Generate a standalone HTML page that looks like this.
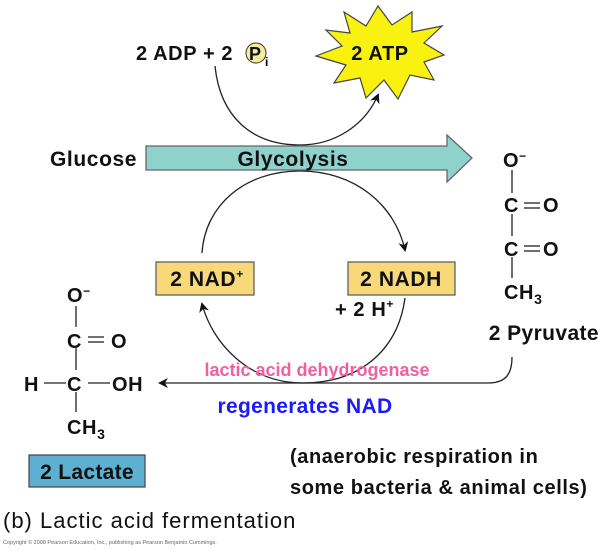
<!DOCTYPE html>
<html><head><meta charset="utf-8"><style>
html,body{margin:0;padding:0;background:#fff;}
svg{display:block;font-family:"Liberation Sans",Arial,sans-serif;}
.t{font-size:19px;font-weight:bold;fill:#111;letter-spacing:0.6px;}
</style></head><body>
<svg width="600" height="550" viewBox="0 0 600 550">
<defs>
<marker id="ah" markerWidth="10" markerHeight="10" refX="8" refY="5" orient="auto" markerUnits="userSpaceOnUse">
<path d="M0,0 L10,5 L0,10 L3,5 Z" fill="#111"/></marker>
</defs>
<g>
<text class="t" x="136" y="60" style="font-size:20px">2 ADP + 2</text>
<circle cx="256" cy="53" r="10" fill="#f6ec9a" stroke="#333" stroke-width="1"/>
<text class="t" x="249" y="60" style="font-size:18px">P</text>
<text x="265" y="66" style="font-size:12px;font-weight:bold">i</text>
</g>
<polygon fill="#f9f10f" stroke="#444" stroke-width="1.2"
points="378,6 392,25 412,12 412,32 442,26 424,43 444,55 424,62 434,80 410,75 398,99 384,80 366,98 360,78 334,83 346,65 316,56 342,46 326,30 350,33 344,12 366,26"/>
<text class="t" x="380" y="60" text-anchor="middle" style="font-size:20px">2 ATP</text>
<path d="M215,66 C220,115 250,145 300,145 C335,145 365,125 378,95" fill="none" stroke="#222" stroke-width="1.3" marker-end="url(#ah)"/>
<path d="M202,253 C205,205 245,171 300,171 C355,171 395,205 405,250" fill="none" stroke="#222" stroke-width="1.3" marker-end="url(#ah)"/>
<polygon points="146,146 447,146 447,135 472,158 447,182 447,170 146,170" fill="#8fd2cc" stroke="#666" stroke-width="1.3"/>
<text class="t" x="50" y="166" style="font-size:21px">Glucose</text>
<text class="t" x="293" y="166" text-anchor="middle" style="font-size:21px">Glycolysis</text>
<rect x="156" y="262" width="98" height="33" fill="#f8d97a" stroke="#555" stroke-width="1.2"/>
<text class="t" x="207" y="286" text-anchor="middle" style="font-size:21px">2 NAD<tspan dy="-8" style="font-size:12px">+</tspan></text>
<rect x="348" y="262" width="107" height="33" fill="#f8d97a" stroke="#555" stroke-width="1.2"/>
<text class="t" x="401" y="286" text-anchor="middle" style="font-size:21px">2 NADH</text>
<text class="t" x="335" y="316" style="font-size:20px">+ 2 H<tspan dy="-8" style="font-size:12px">+</tspan></text>
<path d="M405,298 C398,350 360,383 303,383 C250,383 213,345 202,304" fill="none" stroke="#222" stroke-width="1.3" marker-end="url(#ah)"/>
<g stroke="#222" stroke-width="1.3">
<line x1="512" y1="170" x2="512" y2="193"/><line x1="512" y1="214" x2="512" y2="236"/><line x1="512" y1="257" x2="512" y2="278"/>
<line x1="524" y1="203" x2="540" y2="203"/><line x1="524" y1="208" x2="540" y2="208"/>
<line x1="524" y1="246" x2="540" y2="246"/><line x1="524" y1="251" x2="540" y2="251"/>
</g>
<text class="t" x="503" y="167" style="font-size:20px">O<tspan dy="-7" style="font-size:12px">−</tspan></text>
<text class="t" x="504" y="212" style="font-size:20px">C</text><text class="t" x="543" y="212" style="font-size:20px">O</text>
<text class="t" x="504" y="256" style="font-size:20px">C</text><text class="t" x="543" y="256" style="font-size:20px">O</text>
<text class="t" x="504" y="299" style="font-size:20px">CH<tspan dy="5" style="font-size:14px">3</tspan></text>
<text class="t" x="599" y="340" text-anchor="end" style="font-size:21px;letter-spacing:0.4px">2 Pyruvate</text>
<path d="M512,357 C512,375 505,383 488,383 L160,383" fill="none" stroke="#222" stroke-width="1.3" marker-end="url(#ah)"/>
<text x="317" y="376" text-anchor="middle" style="font-size:18px;font-weight:bold;fill:#f0609e">lactic acid dehydrogenase</text>
<text x="305" y="413" text-anchor="middle" style="font-size:21px;font-weight:bold;fill:#1a1aff;letter-spacing:0.3px">regenerates NAD</text>
<g stroke="#222" stroke-width="1.3">
<line x1="76" y1="306" x2="76" y2="327"/><line x1="76" y1="348" x2="76" y2="370"/><line x1="76" y1="392" x2="76" y2="412"/>
<line x1="88" y1="337" x2="104" y2="337"/><line x1="88" y1="342" x2="104" y2="342"/>
<line x1="44" y1="383" x2="66" y2="383"/><line x1="88" y1="383" x2="110" y2="383"/>
</g>
<text class="t" x="67" y="302" style="font-size:20px">O<tspan dy="-7" style="font-size:12px">−</tspan></text>
<text class="t" x="67" y="348" style="font-size:20px">C</text><text class="t" x="111" y="348" style="font-size:20px">O</text>
<text class="t" x="24" y="391" style="font-size:20px">H</text><text class="t" x="67" y="391" style="font-size:20px">C</text><text class="t" x="112" y="391" style="font-size:20px">OH</text>
<text class="t" x="67" y="434" style="font-size:20px">CH<tspan dy="5" style="font-size:14px">3</tspan></text>
<rect x="29" y="455" width="116" height="32" fill="#5eb0d0" stroke="#444" stroke-width="1.2"/>
<text class="t" x="87" y="479" text-anchor="middle" style="font-size:21px;letter-spacing:0.3px">2 Lactate</text>
<text x="290" y="463" style="font-size:20px;font-weight:bold;fill:#111;letter-spacing:0.6px">(anaerobic respiration in</text>
<text x="290" y="494" style="font-size:20px;font-weight:bold;fill:#111;letter-spacing:0.6px">some bacteria &amp; animal cells)</text>
<text x="3" y="528" style="font-size:22px;fill:#111;letter-spacing:1.0px">(b) Lactic acid fermentation</text>
<text x="3" y="544" style="font-size:5.5px;fill:#666">Copyright © 2008 Pearson Education, Inc., publishing as Pearson Benjamin Cummings.</text>
</svg>
</body></html>
